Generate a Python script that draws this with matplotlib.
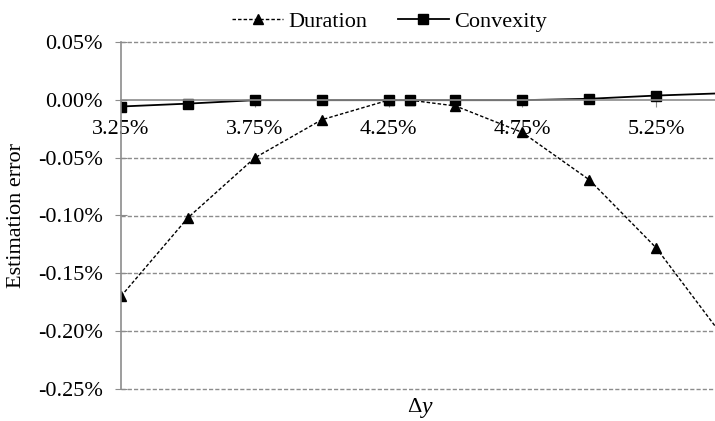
import numpy as np
import matplotlib
matplotlib.use("Agg")
import matplotlib.pyplot as plt
from matplotlib.ticker import FuncFormatter, FixedLocator, MultipleLocator

plt.rcParams['font.family'] = ['Liberation Serif', 'DejaVu Serif']

# yield change (%) and estimation errors (%)
dy = [3.25, 3.50, 3.75, 4.00, 4.25, 4.33, 4.50, 4.75, 5.00, 5.25, 5.50]
err_duration = [-0.170, -0.102, -0.050, -0.017, 0.000, 0.000, -0.005, -0.028, -0.069, -0.128, -0.205]
err_convexity = [-0.0055, -0.0030, 0.000, 0.000, 0.000, 0.000, 0.000, 0.000, 0.0012, 0.0040, 0.0060]
xticks = [3.25, 3.75, 4.25, 4.75, 5.25]

fig = plt.figure(figsize=(7.15, 4.21), dpi=100)
ax = fig.add_axes([121/715, 1 - 388.5/421, (723 - 121)/715, (388.5 - 42.5)/421])

ax.plot(dy, err_duration, color='black', lw=1.0, ls=(0, (2.5, 1.5)),
        marker='^', ms=7, label='Duration')
ax.plot(dy, err_convexity, color='black', lw=1.3, ls='-',
        marker='s', ms=6.5, label='Convexity')

ax.set_xlim(3.25, 5.5)
ax.set_ylim(-0.25, 0.05)
ax.xaxis.set_major_locator(FixedLocator(xticks))
ax.yaxis.set_major_locator(MultipleLocator(0.05))

def pct(v, pos):
    if abs(v) < 1e-9:
        v = 0.0
    return f"{v:.2f}%"

ax.xaxis.set_major_formatter(FuncFormatter(pct))
ax.yaxis.set_major_formatter(FuncFormatter(pct))

# horizontal dashed grid
for yv in [0.05, -0.05, -0.10, -0.15, -0.20, -0.25]:
    ax.axhline(yv, color='#8c8c8c', lw=1.0, ls=(0, (3, 1.5)), zorder=0, clip_on=False)

for s in ['top', 'right']:
    ax.spines[s].set_visible(False)
ax.spines['left'].set_color('#8c8c8c')
ax.spines['left'].set_linewidth(1.2)
ax.spines['bottom'].set_position(('data', 0))
ax.spines['bottom'].set_color('#8c8c8c')
ax.spines['bottom'].set_linewidth(1.2)

ax.tick_params(axis='x', direction='out', length=5, color='#8c8c8c', labelsize=16, pad=9)
ax.tick_params(axis='y', direction='inout', length=8, color='#8c8c8c', labelsize=16, pad=9)

ax.set_ylabel('Estimation error', fontsize=16)
ax.yaxis.set_label_coords(-0.158, 0.5)
ax.text(0.5, -0.056, '\u0394', transform=ax.transAxes, ha='right', va='center', fontsize=16)
ax.text(0.5, -0.056, 'y', transform=ax.transAxes, ha='left', va='center', fontsize=17, style='italic')

fig.legend(loc='upper center', bbox_to_anchor=(0.545, 1.02), ncol=2, frameon=False,
           fontsize=16, handlelength=2.3, columnspacing=1.35, handletextpad=0.25)

fig.savefig('out.png', dpi=100)
